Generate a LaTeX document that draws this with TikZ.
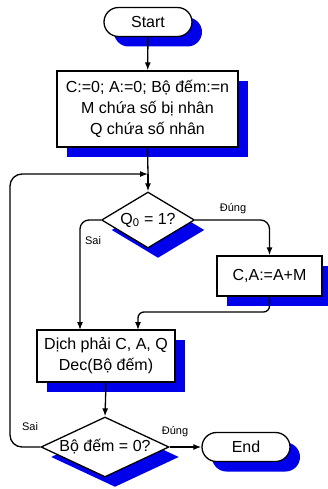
\documentclass[tikz,border=0pt]{standalone}
\usepackage{fontspec}
\setmainfont{Liberation Sans}
\usetikzlibrary{shapes.geometric,shapes.misc,shadows,arrows.meta}
\definecolor{shblue}{RGB}{0,0,235}
\tikzset{
  base/.style={draw=black, line width=1.3pt, fill=white, inner sep=0pt, align=center,
    font=\fontsize{16}{21}\selectfont,
    drop shadow={shadow xshift=10pt, shadow yshift=-10pt, opacity=1, fill=shblue}},
  term/.style={base, rounded rectangle, minimum width=88pt, minimum height=29pt},
  proc/.style={base, rectangle},
  test/.style={base, diamond, aspect=2.2},
  flow/.style={line width=1.3pt, -{Latex[length=8pt,width=6pt]}},
  tag/.style={font=\fontsize{11}{13}\selectfont, inner sep=0pt}
}
\begin{document}
\begin{tikzpicture}[x=1pt,y=-1pt]
\useasboundingbox (0,0) rectangle (328,489);

% blocks of the flowchart
\node[term] (start) at (148,22) {Start};
\node[proc, minimum width=181pt, minimum height=76pt] (init) at (147.5,109)
  {C:=0; A:=0; Bộ đếm:=n\\M chứa số bị nhân\\Q chứa số nhân};
\node[test, minimum width=93pt, minimum height=56pt] (q0) at (148,220) {Q\textsubscript{0} = 1?};
\node[proc, minimum width=105pt, minimum height=40pt] (add) at (269.5,276) {C,A:=A+M};
\node[proc, minimum width=138pt, minimum height=52pt] (shr) at (106,356)
  {Dịch phải C, A, Q\\Dec(Bộ đếm)};
\node[test, minimum width=128pt, minimum height=60pt] (cnt) at (105,447) {Bộ đếm = 0?};
\node[term] (stop) at (246,447) {End};

% junction points
\coordinate (merge) at (148,174);
\coordinate (sai) at (80,330);
\coordinate (join) at (138,312);
\coordinate (joinin) at (138,330);
\coordinate (loopb) at (10,447);
\coordinate (loopt) at (10,174);

% connectors
\draw[flow] (start) -- (init);
\draw[line width=1.3pt] (init.south) -- (merge);
\draw[flow] (merge) -- (q0.north);
\draw[flow, rounded corners=9pt] (q0.east) -| (add.north);
\draw[flow, rounded corners=9pt] (q0.west) -| (sai);
\draw[flow, rounded corners=6pt] (add.south) |- (join) -- (joinin);
\draw[flow] (shr.south) -- (cnt.north);
\draw[flow] (cnt.east) -- (stop.west);
\draw[flow, rounded corners=12pt] (cnt.west) -- (loopb) -- (loopt) -- (merge);

% branch labels
\node[tag] (dung1) at (233,209) {Đúng};
\node[tag] (sai1) at (93,241) {Sai};
\node[tag] (sai2) at (30,427) {Sai};
\node[tag] (dung2) at (175,432) {Đúng};
\end{tikzpicture}
\end{document}
